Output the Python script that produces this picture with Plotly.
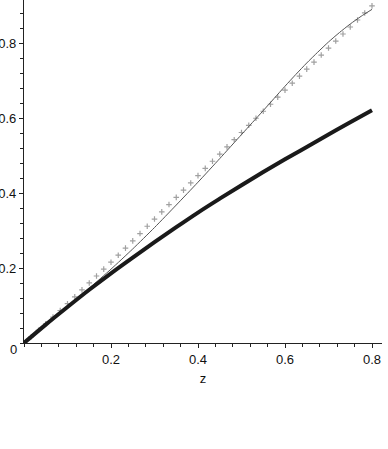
import plotly.graph_objects as go

# Curve samples
z_thick = [0, 0.05, 0.1, 0.15, 0.2, 0.25, 0.3, 0.35, 0.4, 0.45, 0.5, 0.55, 0.6, 0.65, 0.7, 0.75, 0.8]
thick_y = [0, 0.049, 0.096, 0.142, 0.186, 0.228, 0.269, 0.309, 0.348, 0.385, 0.421, 0.456, 0.490, 0.523, 0.556, 0.589, 0.621]

z_thin = [0, 0.05, 0.1, 0.15, 0.2, 0.25, 0.3, 0.35, 0.4, 0.45, 0.5, 0.525, 0.55, 0.575, 0.6,
          0.625, 0.65, 0.675, 0.7, 0.725, 0.75, 0.775, 0.8]
thin_y = [0, 0.049, 0.097, 0.146, 0.197, 0.251, 0.308, 0.368, 0.429, 0.492, 0.556, 0.588, 0.620, 0.6525, 0.685,
          0.7165, 0.747, 0.7755, 0.803, 0.828, 0.851, 0.8715, 0.890]

z_pts = [0, 0.0167, 0.0333, 0.05, 0.0667, 0.0833, 0.1, 0.1167, 0.1333, 0.15, 0.1667, 0.1833, 0.2,
         0.2167, 0.2333, 0.25, 0.2667, 0.2833, 0.3, 0.3167, 0.3333, 0.35, 0.3667, 0.3833, 0.4,
         0.4167, 0.4333, 0.45, 0.4667, 0.4833, 0.5, 0.5167, 0.5333, 0.55, 0.5667, 0.5833, 0.6,
         0.6167, 0.6333, 0.65, 0.6667, 0.6833, 0.7, 0.7167, 0.7333, 0.75, 0.7667, 0.7833, 0.8]
pts_y = [0, 0.0168, 0.0340, 0.0514, 0.0689, 0.0867, 0.1048, 0.1231, 0.1416, 0.1602, 0.1787, 0.1971, 0.2156,
         0.2342, 0.2532, 0.2725, 0.2920, 0.3114, 0.3306, 0.3499, 0.3693, 0.3885, 0.4077, 0.4270, 0.4464,
         0.4658, 0.4849, 0.5040, 0.5231, 0.5423, 0.5615, 0.5807, 0.5995, 0.6182, 0.6369, 0.6557, 0.6744,
         0.6931, 0.7119, 0.7306, 0.7493, 0.7681, 0.7868, 0.8055, 0.8243, 0.8430, 0.8617, 0.8805, 0.8992]

x_ticks = [0.2, 0.4, 0.6, 0.8]
x_tick_labels = ["0.2", "0.4", "0.6", "0.8"]
y_ticks = [0.2, 0.4, 0.6, 0.8]
y_tick_labels = ["0.2", "0.4", "0.6", "0.8"]

FONT = "Liberation Sans, Arial, Helvetica, sans-serif"

fig = go.Figure()
fig.add_trace(go.Scatter(x=z_pts, y=pts_y, mode="markers",
                         marker=dict(symbol="cross-thin", size=4, line=dict(color="#a0a0a0", width=1.2)),
                         showlegend=False, hoverinfo="skip"))
fig.add_trace(go.Scatter(x=z_thin, y=thin_y, mode="lines", line=dict(color="#555555", width=1, shape="spline", smoothing=0.6),
                         showlegend=False))
fig.add_trace(go.Scatter(x=z_thick, y=thick_y, mode="lines", line=dict(color="#1a1a1a", width=4, shape="spline"),
                         showlegend=False))

axis_common = dict(showgrid=False, zeroline=False, showline=True, linecolor="#222222", linewidth=1.3,
                   ticks="outside", ticklen=4, tickcolor="#222222", tickwidth=1,
                   tickfont=dict(family=FONT, size=13, color="#111111"), automargin=False,
                   minor=dict(ticks="outside", ticklen=3, dtick=0.04, tickcolor="#222222", tickwidth=1))

fig.update_xaxes(range=[0, 0.823], tickvals=x_ticks, ticktext=x_tick_labels,
                 title=dict(text="z", font=dict(family=FONT, size=13, color="#111111"), standoff=8),
                 **axis_common)
fig.update_yaxes(range=[0, 0.915], tickvals=y_ticks, ticktext=y_tick_labels, **axis_common)

fig.add_annotation(x=0, y=0, xref="x", yref="y", text="0", showarrow=False,
                   xshift=-11, yshift=-6, font=dict(family=FONT, size=13, color="#111111"))

fig.update_layout(width=388, height=449, margin=dict(l=24, r=6, t=0, b=106),
                  plot_bgcolor="white", paper_bgcolor="white")

fig.write_html("out.html", config={"displayModeBar": False},
               post_script="document.body.style.margin='0';document.body.style.padding='0';")
